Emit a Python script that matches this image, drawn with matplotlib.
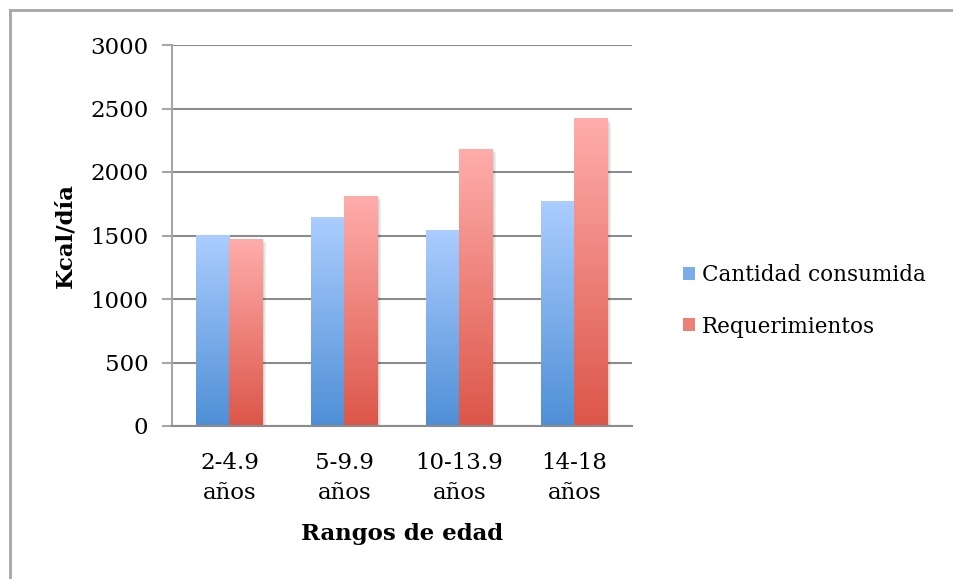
import numpy as np
import matplotlib.pyplot as plt
from matplotlib.patches import Rectangle, Patch
from matplotlib.colors import LinearSegmentedColormap

categorias = ['2-4.9\naños', '5-9.9\naños', '10-13.9\naños', '14-18\naños']
consumida = [1500, 1640, 1540, 1770]
requerimientos = [1470, 1810, 2180, 2420]
yticks = [0, 500, 1000, 1500, 2000, 2500, 3000]

plt.rcParams['font.family'] = ['DejaVu Serif']
fs = 16.5

# gradients: light at top, darker at the base
cmap_azul = LinearSegmentedColormap.from_list('azul', ['#4f8fd6', '#abcdff'])
cmap_rojo = LinearSegmentedColormap.from_list('rojo', ['#dc5649', '#ffadab'])

fig = plt.figure(figsize=(9.54, 5.79), dpi=100)
ax = fig.add_axes([172 / 954, 1 - 426 / 579, 460 / 954, 381 / 579])

# outer chart frame (only top and left visible)
fig.add_artist(plt.Line2D([10 / 954, 10 / 954], [0, 1 - 10 / 579], transform=fig.transFigure,
                          color='#a6a6a6', lw=2))
fig.add_artist(plt.Line2D([10 / 954, 1], [1 - 10 / 579, 1 - 10 / 579], transform=fig.transFigure,
                          color='#a6a6a6', lw=2))

x = np.arange(len(categorias))
ancho = 0.29
grad = np.linspace(0, 1, 256).reshape(-1, 1)


def barra(x0, h, cmap):
    # soft drop shadow
    for k in range(5):
        d = 0.006 * (k + 1)
        ax.add_patch(Rectangle((x0 + d, -20), ancho, h + 20 - 8 * k, color='black',
                               alpha=0.035, lw=0, zorder=2))
    ax.imshow(grad, cmap=cmap, origin='lower', aspect='auto',
              extent=[x0, x0 + ancho, 0, h], zorder=3, interpolation='bilinear')


for i in x:
    barra(i - ancho, consumida[i], cmap_azul)
    barra(i, requerimientos[i], cmap_rojo)

ax.set_xlim(-0.5, 3.5)
ax.set_ylim(0, 3000)
ax.set_yticks(yticks)
ax.set_xticks(x)
ax.set_xticklabels(categorias, fontsize=fs, linespacing=1.45)
ax.tick_params(axis='y', labelsize=fs, length=7, color='#a6a6a6', width=1.5, pad=10)
ax.tick_params(axis='x', length=0, pad=19)
ax.yaxis.grid(True, color='#8c8c8c', lw=1.5, zorder=1)
ax.set_axisbelow(True)
for s in ['top', 'right']:
    ax.spines[s].set_visible(False)
ax.spines['left'].set_color('#a6a6a6')
ax.spines['left'].set_linewidth(1.5)
ax.spines['bottom'].set_color('#8c8c8c')
ax.spines['bottom'].set_linewidth(1.5)
ax.spines['bottom'].set_zorder(4)

ax.set_ylabel('Kcal/día', fontsize=fs, fontweight='bold', labelpad=10)
ax.set_xlabel('Rangos de edad', fontsize=fs, fontweight='bold', labelpad=14)

handles = [Patch(facecolor='#7aaeeb', edgecolor='none', label='Cantidad consumida'),
           Patch(facecolor='#ec7f78', edgecolor='none', label='Requerimientos')]
fig.legend(handles=handles, loc='center left', bbox_to_anchor=(664 / 954, 1 - 301 / 579),
           frameon=False, fontsize=15.5, handlelength=0.55, handleheight=0.55,
           handletextpad=0.3, labelspacing=1.35)

fig.savefig('out.png', dpi=100, facecolor='white')
